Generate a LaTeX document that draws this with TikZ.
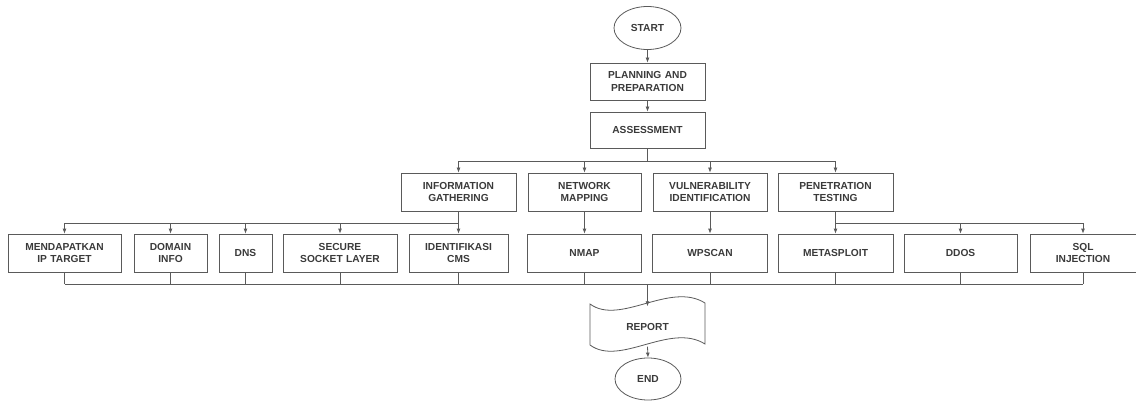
\documentclass[tikz,border=0pt]{standalone}
\usepackage{fontspec}
\setmainfont{Liberation Sans}
\usetikzlibrary{shapes.geometric,arrows.meta}
\definecolor{ln}{HTML}{5A5A5A}
\definecolor{tx}{HTML}{3A3A3A}
\begin{document}
\begin{tikzpicture}[x=1pt,y=-1pt,
  every node/.style={font=\fontsize{10.2}{12.5}\selectfont\bfseries, text=tx, align=center, inner sep=0pt},
  box/.style={draw=ln, line width=0.8pt, rectangle, minimum height=38, text width=#1, minimum width=#1},
  box/.default=114,
  term/.style={draw=ln, line width=0.8pt, ellipse, minimum width=67, minimum height=43},
  conn/.style={draw=ln, line width=0.8pt},
  arr/.style={conn, -{Latex[length=5pt,width=4pt]}}]
\useasboundingbox (0,0) rectangle (1136,401);
% top
\node[term] (start) at (647.5,28) {START};
\node[box=115, minimum height=37] (plan) at (647.5,81.5) {PLANNING AND\\PREPARATION};
\node[box=115, minimum height=36] (assess) at (647.5,130) {ASSESSMENT};
% second level
\node[box=115] (info) at (458.5,192) {INFORMATION\\GATHERING};
\node[box=113] (net) at (584.5,192) {NETWORK\\MAPPING};
\node[box=114] (vuln) at (710,192) {VULNERABILITY\\IDENTIFICATION};
\node[box=115] (pen) at (835.5,192) {PENETRATION\\TESTING};
% bottom row
\node[box=113] (mend) at (64.5,253) {MENDAPATKAN\\IP TARGET};
\node[box=73] (dom) at (170.5,253) {DOMAIN\\INFO};
\node[box=53] (dns) at (245.5,253) {DNS};
\node[box=114] (ssl) at (340,253) {SECURE\\SOCKET LAYER};
\node[box=99] (cms) at (458.5,253) {IDENTIFIKASI\\CMS};
\node[box=114] (nmap) at (584.5,253) {NMAP};
\node[box=115] (wps) at (710,253) {WPSCAN};
\node[box=115] (meta) at (835.5,253) {METASPLOIT};
\node[box=113] (ddos) at (960.5,253) {DDOS};
\node[box=106] (sql) at (1083,253) {SQL\\INJECTION};
% report (tape) and end
\node[minimum width=115, minimum height=40] (report) at (647.5,326.5) {REPORT};
\draw[ln, line width=0.8pt] (590,304) .. controls (620,326) and (670,281) .. (705,303)
  -- (705,344) .. controls (670,322) and (620,367) .. (590,345) -- cycle;
\node[term, minimum width=66, minimum height=42] (end) at (648,379) {END};
% connectors top
\draw[arr] (start) -- (plan);
\draw[arr] (plan) -- (assess);
\coordinate (b1) at (647.5,161);
\draw[conn] (assess.south) -- (b1);
\draw[arr] (b1) -| (info.north);
\draw[arr] (b1) -| (net.north);
\draw[arr] (b1) -| (vuln.north);
\draw[arr] (b1) -| (pen.north);
% information gathering children
\coordinate (b2) at (458.5,223);
\draw[arr] (info.south) -- (cms.north);
\draw[arr] (b2) -| (mend.north);
\draw[arr] (b2) -| (dom.north);
\draw[arr] (b2) -| (dns.north);
\draw[arr] (b2) -| (ssl.north);
% other children
\draw[arr] (net.south) -- (nmap.north);
\draw[arr] (vuln.south) -- (wps.north);
\coordinate (b3) at (835.5,223);
\draw[arr] (pen.south) -- (meta.north);
\draw[arr] (b3) -| (ddos.north);
\draw[arr] (b3) -| (sql.north);
% bottom bus
\coordinate (b4) at (647.5,284);
\foreach \n in {mend,dom,dns,ssl,cms,nmap,wps,meta,ddos,sql}
  \draw[conn] (\n.south) -- (\n.south |- b4);
\draw[conn] (mend.south |- b4) -- (sql.south |- b4);
\draw[arr] (b4) -- (report.north);
\draw[arr] (report.south) -- (end.north);
\end{tikzpicture}
\end{document}
